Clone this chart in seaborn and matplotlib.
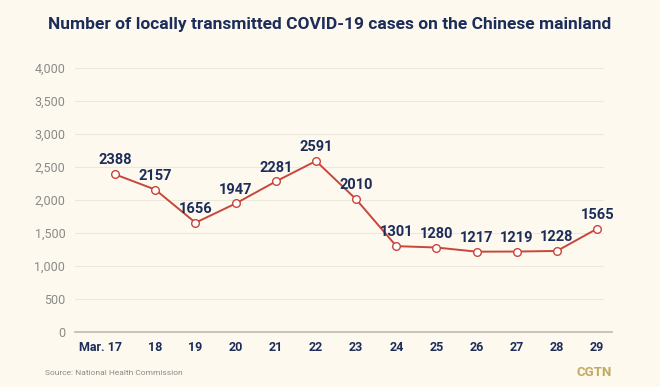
import matplotlib
matplotlib.use("Agg")
import matplotlib.pyplot as plt
import matplotlib.transforms as mtransforms
import seaborn as sns
import pandas as pd

days = [17, 18, 19, 20, 21, 22, 23, 24, 25, 26, 27, 28, 29]
day_labels = ["Mar. 17", "18", "19", "20", "21", "22", "23", "24", "25", "26", "27", "28", "29"]
cases = [2388, 2157, 1656, 1947, 2281, 2591, 2010, 1301, 1280, 1217, 1219, 1228, 1565]
yticks = [0, 500, 1000, 1500, 2000, 2500, 3000, 3500, 4000]

BG = "#fdf9ee"
NAVY = "#1c2d5a"
RED = "#c8463b"

sns.set_theme(style="white")
plt.rcParams["font.family"] = ["Roboto", "DejaVu Sans"]

df = pd.DataFrame({"day": days, "cases": cases})

fig = plt.figure(figsize=(6.6, 3.87), dpi=100, facecolor=BG)
ax = fig.add_axes([75/660, 1-332/387, (612-75)/660, (332-68)/387])
ax.set_facecolor(BG)

for t in yticks[1:]:
    ax.axhline(t, xmin=0, xmax=(603-75)/(612-75), color="#ece8dc", lw=0.8, zorder=0)

sns.lineplot(data=df, x="day", y="cases", ax=ax, color=RED, lw=1.4,
             marker="o", markersize=5.5, markerfacecolor="white",
             markeredgecolor=RED, markeredgewidth=1.0, zorder=3)

for d, v in zip(days, cases):
    ax.annotate(f"{v}", (d, v), xytext=(0, 5), textcoords="offset points",
                ha="center", va="bottom", fontsize=10.5, fontweight="bold",
                color=NAVY, zorder=4)

TICK_LEN, TICK_PAD = 4, 2.5
ax.set_xlim(16.0, 29.37)
ax.set_ylim(0, 4000)
ax.set_yticks(yticks)
ax.set_yticklabels([f"{t:,}" for t in yticks], color="#8a8a8a", fontsize=9)
ax.set_xticks(days)
ax.set_xticklabels([""] + day_labels[1:], color=NAVY, fontsize=9, fontweight="bold")
ax.tick_params(axis="x", length=TICK_LEN, width=0.8, color="#bdbbb4", pad=TICK_PAD, direction="out")
ax.tick_params(axis="y", length=0, pad=7)
# first label: "17" centred under its tick, "Mar." hanging to the left
trans = mtransforms.blended_transform_factory(ax.transData, ax.transAxes) + \
    mtransforms.ScaledTranslation(7/100, -(TICK_LEN + TICK_PAD)/72, fig.dpi_scale_trans)
ax.text(days[0], 0, day_labels[0], transform=trans, ha="right", va="top",
        color=NAVY, fontsize=9, fontweight="bold")
ax.set_xlabel("")
ax.set_ylabel("")
for s in ["top", "right", "left"]:
    ax.spines[s].set_visible(False)
ax.spines["bottom"].set_color("#bdbbb4")
ax.spines["bottom"].set_linewidth(1.2)

fig.text(0.5, 1-25/387, "Number of locally transmitted COVID-19 cases on the Chinese mainland",
         ha="center", va="center", fontsize=12.5, fontweight="bold", color=NAVY)
fig.text(45/660, 1-373/387, "Source: National Health Commission", ha="left", va="center",
         fontsize=6, color="#8a8a8a")
fig.text(612/660, 1-372/387, "CGTN", ha="right", va="center", fontsize=9.5,
         fontweight="bold", color="#c3aa62")

fig.savefig("out.png", dpi=100, facecolor=BG)
